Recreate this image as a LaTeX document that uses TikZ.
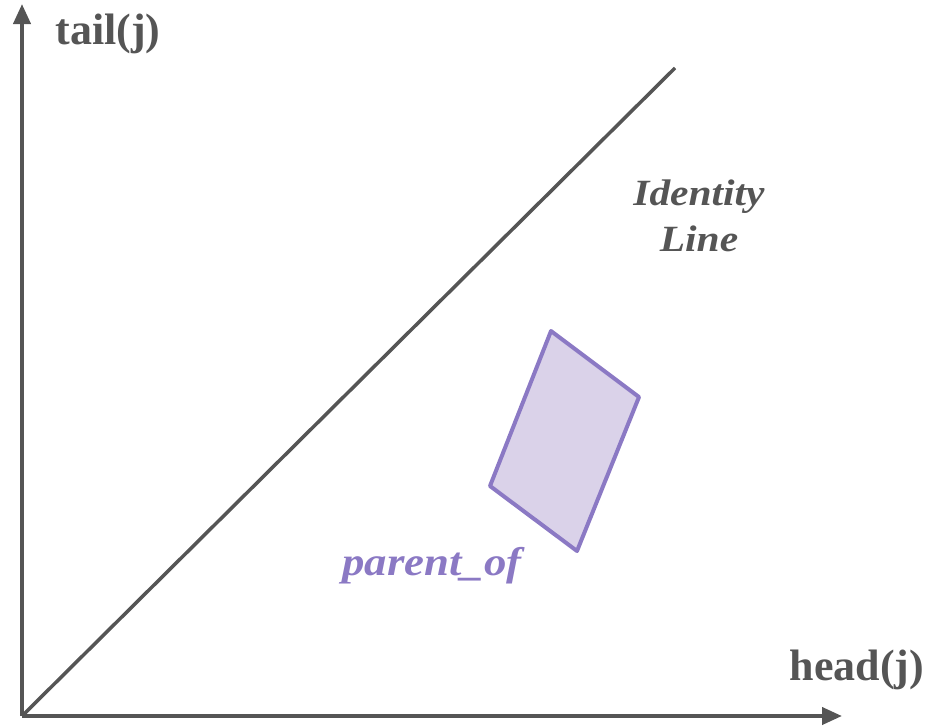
\documentclass[tikz,border=0pt]{standalone}
\usepackage{fontspec}
\setmainfont{Liberation Serif}
\usetikzlibrary{arrows.meta}
\definecolor{axisgray}{HTML}{555555}
\definecolor{purpleline}{HTML}{8B79C4}
\definecolor{purplefill}{HTML}{DAD2E9}
\tikzset{
  axis/.style={draw=axisgray, line width=4pt, -{Triangle[length=20pt,width=17pt]}},
  idline/.style={draw=axisgray, line width=3.5pt},
  region/.style={draw=purpleline, fill=purplefill, line width=4pt, line join=round},
  axlabel/.style={text=axisgray, font=\bfseries\fontsize{44}{48}\selectfont, inner sep=0pt},
  idlabel/.style={text=axisgray, font=\bfseries\itshape\fontsize{37}{46}\selectfont, align=center, inner sep=0pt},
  plabel/.style={text=purpleline, font=\bfseries\itshape\fontsize{40}{44}\selectfont, inner sep=0pt}
}
\begin{document}
\begin{tikzpicture}[x=1pt,y=-1pt]
\useasboundingbox (0,0) rectangle (931,726);
\coordinate (o) at (22,716);
\coordinate (ytip) at (22,4);
\coordinate (xtip) at (842,716);
\coordinate (idend) at (675,68);
\draw[axis] (o) -- (ytip);
\draw[axis] (o) -- (xtip);
\draw[idline] (o) -- (idend);
\draw[region] (551,331) -- (639,397) -- (577,551) -- (490,486) -- cycle;
\node[axlabel] (tl) at (108,34) {tail(j)};
\node[axlabel] (hl) at (857,670) {head(j)};
\node[idlabel] (il) at (699,216) {\scalebox{1.12}[1]{Identity}\\\scalebox{1.12}[1]{Line}};
\node[plabel] (pl) at (432,566) {\scalebox{1.12}[1]{parent\_of}};
\end{tikzpicture}
\end{document}
